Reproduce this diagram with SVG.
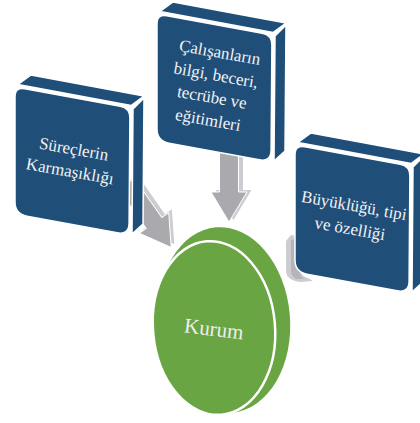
<svg xmlns="http://www.w3.org/2000/svg" xmlns:xlink="http://www.w3.org/1999/xlink" width="420" height="423" viewBox="0 0 420 423">
  <style>
    .face { fill:#1f4e79; stroke:#ffffff; stroke-width:1.5; stroke-linejoin:round; }
    .lbl { font-family:"Liberation Serif","DejaVu Serif",serif; font-size:17px; fill:#f2f2f2; text-anchor:middle; }
    .arrow-front { fill:#a9a9ae; stroke:#ffffff; stroke-width:1; stroke-linejoin:round; }
    .arrow-side { fill:#cdcdd1; }
    .disk { fill:#6aa544; }
  </style>
  <defs>
    <!-- bevelled block: top face, right face, front face (origin = front top-left) -->
    <g id="block">
      <polygon class="face" points="3,-2.5 116,18.5 129,9 16,-12"/>
      <polygon class="face" points="118,22 129,11 128,137 117,147"/>
      <path class="face" d="M0,10 Q0,0 9.8,1.8 L105.2,19.2 Q115,21 114.9,31 L114.1,136 Q114,148 102.2,145.8 L12,129.2 Q0,127 0,115 Z"/>
    </g>
    <!-- block arrow pointing along +y, tip at y=30 -->
    <polygon id="arrow-shape" points="-9.5,-48 9.5,-48 9.5,0 18,0 0,30 -18,0 -9.5,0"/>
  </defs>

  <rect width="420" height="423" fill="#ffffff"/>

  <g id="connectors">
    <g id="arrow-left" transform="translate(154,223) rotate(-35)">
      <use xlink:href="#arrow-shape" class="arrow-side" transform="translate(4.5,-1)"/>
      <use xlink:href="#arrow-shape" class="arrow-front"/>
    </g>
    <g id="arrow-top" transform="translate(229,192)">
      <use xlink:href="#arrow-shape" class="arrow-side" transform="translate(4.5,-2)"/>
      <use xlink:href="#arrow-shape" class="arrow-front"/>
    </g>
    <g id="arrow-right">
      <path class="arrow-side" d="M286,241 L291,235 L300,237 L300,270 Q302,277 308,278 L313,281 L300,282 Q287,280 286,272 Z"/>
      <path fill="#b4b4b9" d="M291,240 L300,238 L300,272 Q300,278 306,279 L296,279 Q291,276 291,270 Z"/>
    </g>
  </g>

  <g id="node-surecler" transform="translate(15,87)">
    <use xlink:href="#block"/>
    <g transform="translate(57,73) rotate(10)">
      <text class="lbl" x="0" y="-5.5">Süreçlerin</text>
      <text class="lbl" x="0" y="17">Karmaşıklığı</text>
    </g>
  </g>

  <g id="node-calisanlar" transform="translate(157,14)">
    <use xlink:href="#block"/>
    <g transform="translate(57,72) rotate(10)">
      <text class="lbl" x="0" y="-28.5">Çalışanların</text>
      <text class="lbl" x="0" y="-5.5">bilgi, beceri,</text>
      <text class="lbl" x="0" y="17">tecrübe ve</text>
      <text class="lbl" x="0" y="40">eğitimleri</text>
    </g>
  </g>

  <g id="node-buyukluk" transform="translate(295,145)">
    <use xlink:href="#block"/>
    <g transform="translate(57,72) rotate(10)">
      <text class="lbl" x="0" y="-6">Büyüklüğü, tipi</text>
      <text class="lbl" x="0" y="17.5">ve özelliği</text>
    </g>
  </g>

  <g id="node-kurum">
    <ellipse class="disk" cx="224" cy="320" rx="66" ry="93" transform="rotate(-5 224 320)"/>
    <ellipse class="disk" cx="214" cy="328" rx="61" ry="87" stroke="#ffffff" stroke-width="2.5" transform="rotate(-5 214 328)"/>
    <text transform="translate(214,329) rotate(7)" x="0" y="7" font-family="Liberation Serif, DejaVu Serif, serif" font-size="21" fill="#eeeeee" text-anchor="middle">Kurum</text>
  </g>
</svg>
